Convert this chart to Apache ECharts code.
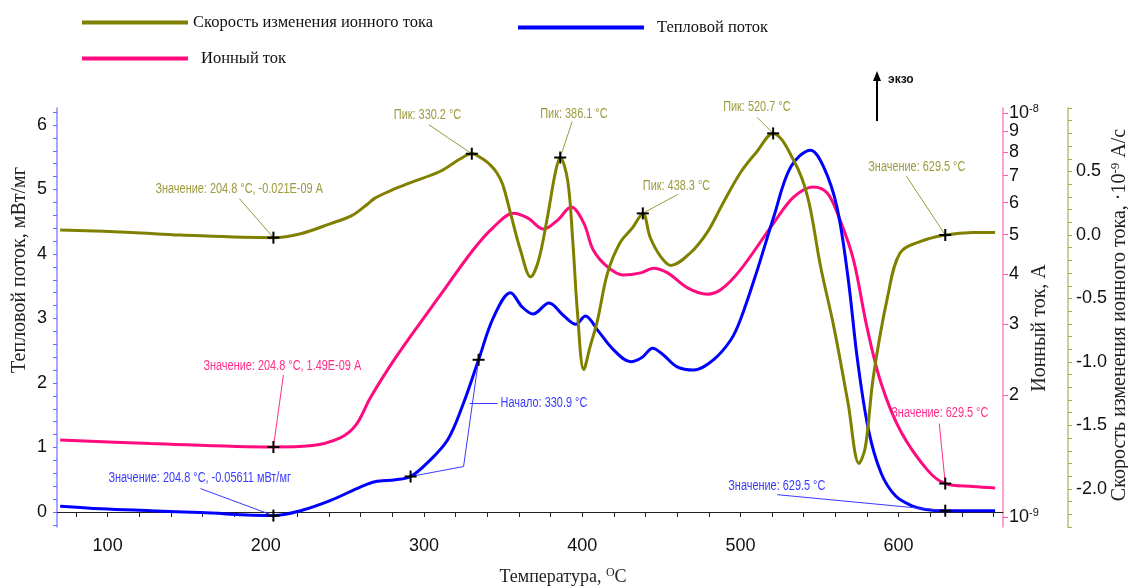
<!DOCTYPE html>
<html><head><meta charset="utf-8">
<script src="https://cdn.jsdelivr.net/npm/echarts@6/dist/echarts.min.js"></script>
<style>html,body{margin:0;padding:0;background:#fff}#c{width:1128px;height:588px}</style>
</head><body><div id="c"></div>
<script>
// ---------- DATA ----------
// Heat flow, mW/mg (left axis)
const heatT = [70, 96, 127, 159, 204.8, 222, 241, 260, 269, 282, 291.5, 302, 315, 325, 334.5, 344, 354.7, 362, 369, 379, 388, 396, 402, 409.7, 420, 430.6, 438, 444.5, 451.5, 460, 470.4, 483, 494, 500, 510, 521, 531.8, 544.4, 552.6, 561, 568, 574, 581, 589, 598, 608, 617, 629.5, 661];
const heatV = [0.09, 0.05, 0.02, -0.01, -0.056, 0.02, 0.18, 0.39, 0.47, 0.50, 0.55, 0.76, 1.12, 1.69, 2.36, 3.02, 3.40, 3.18, 3.07, 3.24, 3.05, 2.91, 3.04, 2.82, 2.51, 2.33, 2.40, 2.54, 2.43, 2.25, 2.20, 2.36, 2.67, 2.98, 3.70, 4.57, 5.35, 5.61, 5.35, 4.73, 3.64, 2.36, 1.27, 0.60, 0.25, 0.10, 0.04, 0.02, 0.02];
// Ion current, A (log axis)
const ionT = [70, 127, 204.8, 228, 247, 257, 266, 279, 292, 310.5, 331, 344, 356.6, 365.5, 375.6, 384.5, 393, 401, 407, 416, 426, 437, 445, 454, 466.6, 479, 487.5, 500, 521, 533.6, 546, 555, 563, 571.5, 580, 589, 601, 618, 629.5, 647, 661];
const ionV = [1.55e-9, 1.52e-9, 1.49e-9, 1.50e-9, 1.57e-9, 1.69e-9, 1.97e-9, 2.38e-9, 2.82e-9, 3.55e-9, 4.58e-9, 5.22e-9, 5.65e-9, 5.50e-9, 5.16e-9, 5.43e-9, 5.85e-9, 5.34e-9, 4.58e-9, 4.16e-9, 3.97e-9, 4.02e-9, 4.13e-9, 4.02e-9, 3.69e-9, 3.56e-9, 3.65e-9, 4.09e-9, 5.34e-9, 6.19e-9, 6.56e-9, 6.33e-9, 5.43e-9, 4.33e-9, 2.95e-9, 2.14e-9, 1.64e-9, 1.31e-9, 1.21e-9, 1.19e-9, 1.18e-9];
// Rate of ion current change, 1e-9 A/s (outer right axis)
const rateT = [70, 115, 146, 204.8, 222, 241, 254, 263, 269, 279, 291, 310, 323, 330.2, 337, 342, 346, 349.7, 354.7, 361, 367.4, 372.4, 378, 383, 386.1, 390.8, 394, 397, 401, 405, 409.7, 416, 424, 432, 438.3, 443, 449.6, 456, 468.5, 479, 489, 500, 510, 520.7, 533.6, 542.5, 550.7, 559, 568, 575, 579, 584, 593, 601, 614, 629.5, 647, 661];
const rateV = [0.04, 0.02, 0.0, -0.021, 0.01, 0.09, 0.15, 0.23, 0.29, 0.35, 0.41, 0.50, 0.60, 0.64, 0.60, 0.55, 0.49, 0.40, 0.17, -0.12, -0.33, -0.20, 0.14, 0.49, 0.61, 0.43, -0.04, -0.61, -1.06, -0.88, -0.67, -0.30, -0.06, 0.06, 0.17, -0.02, -0.17, -0.24, -0.14, 0.02, 0.25, 0.49, 0.65, 0.80, 0.59, 0.30, -0.25, -0.72, -1.32, -1.80, -1.67, -1.12, -0.49, -0.14, -0.05, 0.0, 0.02, 0.02];

// Tick labels
const xLabels = [100, 200, 300, 400, 500, 600];
const leftLabels = [0, 1, 2, 3, 4, 5, 6];
const ionLabels = [1e-9, 2e-9, 3e-9, 4e-9, 5e-9, 6e-9, 7e-9, 8e-9, 9e-9, 1e-8];
const rateLabels = [-2.0, -1.5, -1.0, -0.5, 0.0, 0.5];

// Annotations: axis (0 heat, 1 ion, 2 rate), temperature, value, text
const annoAxis = [2, 1, 0, 2, 2, 2, 2, 2, 1, 0];
const annoT = [204.8, 204.8, 204.8, 330.2, 386.1, 438.3, 520.7, 629.5, 629.5, 629.5];
const annoV = [-0.021, 1.49e-9, -0.05611, 0.64, 0.61, 0.17, 0.80, 0.0, 1.21e-9, 0.02];
const annoText = ['Значение: 204.8 °C, -0.021E-09 A', 'Значение: 204.8 °C, 1.49E-09 A', 'Значение: 204.8 °C, -0.05611 мВт/мг',
  'Пик: 330.2 °C', 'Пик: 386.1 °C', 'Пик: 438.3 °C', 'Пик: 520.7 °C', 'Значение: 629.5 °C', 'Значение: 629.5 °C', 'Значение: 629.5 °C'];
// Onset construction (heat flow)
const onsetT = [291.5, 334.5];
const onsetV = [0.55, 2.36];
const onsetText = 'Начало: 330.9 °C';

// ---------- LAYOUT / STYLE ----------
const C_OLIVE = '#808000', C_PINK = '#ff0a7f', C_BLUE = '#0000ff';
const T_OLIVE = '#9c9a3c', T_PINK = '#ff2d8a', T_BLUE = '#3a3aff';
const annoColor = [T_OLIVE, T_PINK, T_BLUE];
// [textDx, textDy, lineDx, lineDy] relative to marker
const annoLayout = [[-118, -48, -34, -39], [-70, -81, 10, -72], [-165, -37, -73, -27],
  [-78, -39, -43, -29], [-20, -43, 12, -36], [0, -27, 35, -19], [-50, -26, -16, -16],
  [-77, -68, -39, -59], [-54, -70, -6, -60], [-217, -25, -168, -16]];

function range(a, b, s) { const r = []; for (let v = a; v <= b + 1e-9; v += s) r.push(Math.round(v * 1000) / 1000); return r; }
const xTicks = range(80, 660, 20);
const leftTicks = range(-0.2, 6.2, 0.2);
const rateTicks = range(-2.3, 1.0, 0.1);
const ionTicks = ionLabels;

const zip = (a, b) => a.map((t, i) => [t, b[i]]);
const labelFont = { color: '#111', fontSize: 18, fontFamily: 'Liberation Sans, Arial, sans-serif' };

const chart = echarts.init(document.getElementById('c'), null, { renderer: 'canvas' });
const option = {
  animation: false,
  backgroundColor: '#fff',
  grid: { left: 57, right: 125, top: 108, bottom: 61, containLabel: false },
  legend: [
    { data: ['Скорость изменения ионного тока'], left: 77, top: 9, icon: 'rect', itemWidth: 106, itemHeight: 4, selectedMode: false,
      textStyle: { fontFamily: 'Liberation Serif, serif', fontSize: 16.5, color: '#111' } },
    { data: ['Ионный ток'], left: 77, top: 45, icon: 'rect', itemWidth: 106, itemHeight: 4, selectedMode: false,
      textStyle: { fontFamily: 'Liberation Serif, serif', fontSize: 16.5, color: '#111', padding: [0, 0, 0, 8] } },
    { data: ['Тепловой поток'], left: 513, top: 14, icon: 'rect', itemWidth: 126, itemHeight: 4, selectedMode: false,
      textStyle: { fontFamily: 'Liberation Serif, serif', fontSize: 16.5, color: '#111', padding: [0, 0, 0, 8] } }
  ],
  xAxis: {
    type: 'value', min: 68, max: 666,
    axisLine: { lineStyle: { color: '#222', width: 1 } },
    axisTick: { customValues: xTicks, length: 5, lineStyle: { color: '#222' } },
    axisLabel: Object.assign({ customValues: xLabels, margin: 10 }, labelFont),
    splitLine: { show: false }
  },
  yAxis: [
    { type: 'value', min: -0.233, max: 6.264, position: 'left',
      axisLine: { show: true, lineStyle: { color: '#8a8aff', width: 1.5 } },
      axisTick: { show: true, customValues: leftTicks, length: 4, lineStyle: { color: '#6a6aff' } },
      axisLabel: Object.assign({ customValues: leftLabels, margin: 10 }, labelFont),
      splitLine: { show: false } },
    { type: 'log', logBase: 10, min: 0.9446e-9, max: 1.0289e-8, position: 'right', offset: 0,
      axisLine: { show: true, lineStyle: { color: '#ff80c0', width: 1.5 } },
      axisTick: { show: true, customValues: ionTicks, length: 5, lineStyle: { color: '#ff5aa8' } },
      axisLabel: Object.assign({ customValues: ionLabels, margin: 6,
        formatter: function (v) {
          const n = Math.round(v / 1e-9);
          if (n === 1) return '{b|10}{s|-9}';
          if (n === 10) return '{b|10}{s|-8}';
          return '{b|' + n + '}';
        },
        rich: { b: { fontSize: 18, color: '#111', fontFamily: 'Liberation Sans, Arial, sans-serif' },
                s: { fontSize: 11, color: '#111', verticalAlign: 'top', padding: [0, 0, 8, 0], fontFamily: 'Liberation Sans, Arial, sans-serif' } }
      }, labelFont),
      splitLine: { show: false } },
    { type: 'value', min: -2.3, max: 1.0, position: 'right', offset: 65,
      axisLine: { show: true, lineStyle: { color: '#bdbd70', width: 1.5 } },
      axisTick: { show: true, customValues: rateTicks, length: 4, lineStyle: { color: '#a8a850' } },
      axisLabel: Object.assign({ customValues: rateLabels, margin: 8, formatter: v => Number(v).toFixed(1) }, labelFont),
      splitLine: { show: false } }
  ],
  series: [
    { name: 'Тепловой поток', type: 'line', yAxisIndex: 0, data: zip(heatT, heatV), smooth: 0.35, showSymbol: false,
      lineStyle: { color: C_BLUE, width: 3 }, itemStyle: { color: C_BLUE }, z: 3 },
    { name: 'Ионный ток', type: 'line', yAxisIndex: 1, data: zip(ionT, ionV), smooth: 0.35, showSymbol: false,
      lineStyle: { color: C_PINK, width: 3 }, itemStyle: { color: C_PINK }, z: 2 },
    { name: 'Скорость изменения ионного тока', type: 'line', yAxisIndex: 2, data: zip(rateT, rateV), smooth: 0.35, showSymbol: false,
      lineStyle: { color: C_OLIVE, width: 3 }, itemStyle: { color: C_OLIVE }, z: 4 }
  ]
};
chart.setOption(option);

// ---------- ANNOTATIONS ----------
const annoFont = '14px "Liberation Sans", Arial, sans-serif';
const SX = 0.78;
const g = [];
function px(ax, t, v) { return chart.convertToPixel({ xAxisIndex: 0, yAxisIndex: ax }, [t, v]); }
function plus(p) {
  g.push({ type: 'line', shape: { x1: p[0] - 6, y1: p[1], x2: p[0] + 6, y2: p[1] }, style: { stroke: '#000', lineWidth: 2 }, z: 20 });
  g.push({ type: 'line', shape: { x1: p[0], y1: p[1] - 6, x2: p[0], y2: p[1] + 6 }, style: { stroke: '#000', lineWidth: 2 }, z: 20 });
}
function label(x, y, text, col) {
  g.push({ type: 'text', x: x, y: y, scaleX: SX, style: { text: text, fill: col, font: annoFont, align: 'left', verticalAlign: 'middle' }, z: 16 });
}
for (let i = 0; i < annoT.length; i++) {
  const p = px(annoAxis[i], annoT[i], annoV[i]);
  const L = annoLayout[i];
  const col = annoColor[annoAxis[i] === 2 ? 0 : annoAxis[i] === 1 ? 1 : 2];
  g.push({ type: 'line', shape: { x1: p[0] + L[2], y1: p[1] + L[3], x2: p[0], y2: p[1] }, style: { stroke: col, lineWidth: 1 }, z: 15 });
  label(p[0] + L[0], p[1] + L[1], annoText[i], col);
  plus(p);
}
// onset construction
const o1 = px(0, onsetT[0], onsetV[0]);
const o2 = px(0, onsetT[1], onsetV[1]);
const jn = [o1[0] + 53, o1[1] - 10];
g.push({ type: 'polyline', shape: { points: [o2, jn, o1] }, style: { stroke: T_BLUE, lineWidth: 1, fill: null }, z: 15 });
g.push({ type: 'line', shape: { x1: o1[0] + 59, y1: o1[1] - 73, x2: o1[0] + 87, y2: o1[1] - 73 }, style: { stroke: T_BLUE, lineWidth: 1 }, z: 15 });
label(o1[0] + 90, o1[1] - 73, onsetText, T_BLUE);
plus(o1); plus(o2);

// exo arrow
g.push({ type: 'line', shape: { x1: 877, y1: 121, x2: 877, y2: 78 }, style: { stroke: '#000', lineWidth: 2 }, z: 20 });
g.push({ type: 'polygon', shape: { points: [[873, 81], [881, 81], [877, 71]] }, style: { fill: '#000' }, z: 20 });
g.push({ type: 'text', x: 888, y: 80, style: { text: 'экзо', fill: '#111', font: 'bold 12px "Liberation Sans", Arial, sans-serif', align: 'left', verticalAlign: 'middle' }, z: 20 });

// axis names
const nameFont = '20px "Liberation Serif", "Times New Roman", serif';
g.push({ type: 'text', x: 20, y: 270, rotation: Math.PI / 2, style: { text: 'Тепловой поток, мВт/мг', fill: '#222', font: nameFont, align: 'center', verticalAlign: 'middle' } });
g.push({ type: 'text', x: 1040, y: 328, rotation: Math.PI / 2, style: { text: 'Ионный ток, А', fill: '#222', font: nameFont, align: 'center', verticalAlign: 'middle' } });
g.push({ type: 'text', x: 1120, y: 315, rotation: Math.PI / 2, style: {
  text: 'Скорость изменения ионного тока, ·10{s|-9} А/с', fill: '#222', font: nameFont, align: 'center', verticalAlign: 'middle',
  rich: { s: { font: '13px "Liberation Serif", serif', fill: '#222', verticalAlign: 'top', padding: [0, 0, 8, 0] } } } });
g.push({ type: 'text', x: 563, y: 577, style: {
  text: 'Температура, {s|O}C', fill: '#222', font: '18px "Liberation Serif", "Times New Roman", serif', align: 'center', verticalAlign: 'middle',
  rich: { s: { font: '12px "Liberation Serif", serif', fill: '#222', verticalAlign: 'top', padding: [0, 0, 8, 0] } } } });

chart.setOption({ graphic: g });
</script>
</body></html>
